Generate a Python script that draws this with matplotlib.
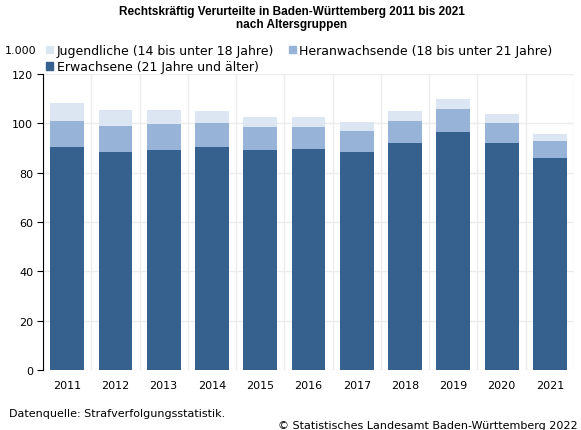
import matplotlib.pyplot as plt
from matplotlib.patches import Patch

# data (in 1.000)
years = ['2011', '2012', '2013', '2014', '2015', '2016', '2017', '2018', '2019', '2020', '2021']
erwachsene = [90.5, 88.5, 89.2, 90.5, 89.2, 89.6, 88.4, 92.0, 96.6, 92.0, 85.9]
heranwachsende = [10.4, 10.4, 10.5, 9.6, 9.3, 8.9, 8.5, 8.9, 9.2, 8.1, 6.9]
jugendliche = [7.3, 6.5, 5.7, 4.9, 4.1, 4.1, 3.6, 4.1, 4.1, 3.7, 2.9]

c_erw = '#36618f'
c_her = '#97b4d8'
c_jug = '#dce6f2'

plt.rcParams['font.family'] = ['DejaVu Sans']
plt.rcParams['font.size'] = 8

fig = plt.figure(figsize=(5.81, 4.31), dpi=100)
ax = fig.add_axes([0.074, 0.139, 0.914, 0.687])

x = range(len(years))
ax.bar(x, erwachsene, width=0.7, color=c_erw, zorder=3)
ax.bar(x, heranwachsende, width=0.7, bottom=erwachsene, color=c_her, zorder=3)
bottom2 = [a + b for a, b in zip(erwachsene, heranwachsende)]
ax.bar(x, jugendliche, width=0.7, bottom=bottom2, color=c_jug, zorder=3)

ax.set_xlim(-0.5, len(years) - 0.5)
ax.set_ylim(0, 120)
ax.set_yticks(range(0, 121, 20))
ax.set_xticks(list(x))
ax.set_xticklabels(years)
ax.set_xticks([i + 0.5 for i in range(-1, len(years))], minor=True)

ax.grid(axis='y', color='#ececec', linewidth=1, zorder=0)
ax.grid(axis='x', which='minor', color='#ececec', linewidth=1, zorder=0)
for s in ['top', 'right', 'bottom']:
    ax.spines[s].set_visible(False)
ax.spines['left'].set_color('black')
ax.tick_params(axis='y', length=4, color='black', pad=3)
ax.tick_params(axis='x', which='both', length=0, pad=7)

fig.text(0.502, 0.987, 'Rechtskräftig Verurteilte in Baden-Württemberg 2011 bis 2021\nnach Altersgruppen',
         ha='center', va='top', fontsize=8.5, fontweight='bold', linespacing=1.2,
         family='Liberation Sans')
fig.text(0.009, 0.882, '1.000', ha='left', va='center', fontsize=8)

handles = [Patch(color=c_jug), Patch(color=c_erw), Patch(color=c_her)]
labels = ['Jugendliche (14 bis unter 18 Jahre)', 'Erwachsene (21 Jahre und älter)',
          'Heranwachsende (18 bis unter 21 Jahre)']
fig.legend(handles, labels, ncol=2, loc='upper left', bbox_to_anchor=(0.069, 0.91),
           frameon=False, handlelength=0.55, handleheight=0.55, handletextpad=0.3,
           columnspacing=1.15, labelspacing=0.25, borderpad=0, fontsize=9)

fig.text(0.015, 0.04, 'Datenquelle: Strafverfolgungsstatistik.', ha='left', va='center', fontsize=8)
fig.text(0.995, 0.012, '© Statistisches Landesamt Baden-Württemberg 2022', ha='right', va='center', fontsize=8)

fig.savefig('out.png', dpi=100)
